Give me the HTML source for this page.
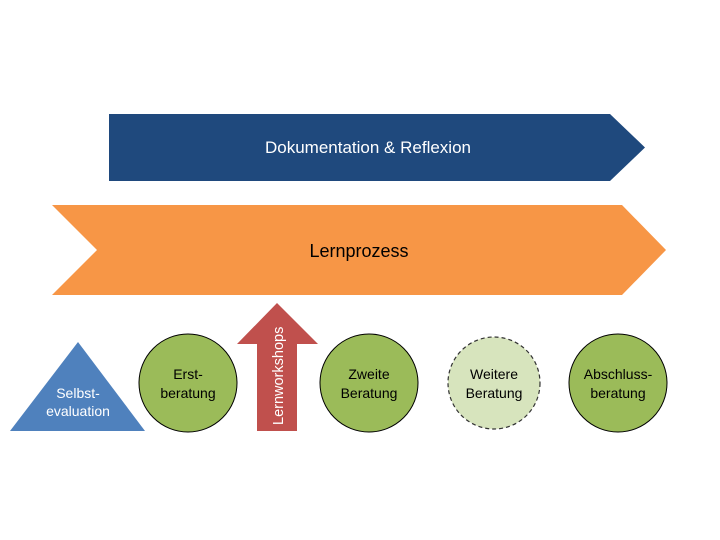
<!DOCTYPE html>
<html><head><style>
html,body{margin:0;padding:0;background:#fff;width:720px;height:540px;overflow:hidden}
text{font-family:"Liberation Sans",sans-serif}
</style></head><body>
<svg width="720" height="540" viewBox="0 0 720 540" xmlns="http://www.w3.org/2000/svg">
<polygon points="109,114 610,114 645,147.5 610,181 109,181" fill="#1f497d"/>
<text x="368" y="153" font-size="17" fill="#fff" text-anchor="middle">Dokumentation &amp; Reflexion</text>
<polygon points="52,205 622,205 666,250 622,295 52,295 97,250" fill="#f79646"/>
<text x="359" y="257" font-size="18" fill="#000" text-anchor="middle">Lernprozess</text>
<polygon points="78,342 145,431 10,431" fill="#4f81bd"/>
<text x="78" y="398" font-size="14" fill="#fff" text-anchor="middle">Selbst-</text>
<text x="78" y="416" font-size="14" fill="#fff" text-anchor="middle">evaluation</text>
<circle cx="188" cy="383" r="49" fill="#9bbb59" stroke="#000" stroke-width="1"/>
<text x="188" y="379" font-size="14" text-anchor="middle">Erst-</text>
<text x="188" y="398" font-size="14" text-anchor="middle">beratung</text>
<polygon points="277,303 318,344 297,344 297,431 257,431 257,344 237,344" fill="#c0504d"/>
<text transform="translate(283,425) rotate(-90)" font-size="14.5" fill="#fff">Lernworkshops</text>
<circle cx="369" cy="383" r="49" fill="#9bbb59" stroke="#000" stroke-width="1"/>
<text x="369" y="379" font-size="14" text-anchor="middle">Zweite</text>
<text x="369" y="398" font-size="14" text-anchor="middle">Beratung</text>
<circle cx="494" cy="383" r="46" fill="#d7e4bd" stroke="#333" stroke-width="1.2" stroke-dasharray="4,3"/>
<text x="494" y="379" font-size="14" text-anchor="middle">Weitere</text>
<text x="494" y="398" font-size="14" text-anchor="middle">Beratung</text>
<circle cx="618" cy="383" r="49" fill="#9bbb59" stroke="#000" stroke-width="1"/>
<text x="618" y="379" font-size="14" text-anchor="middle">Abschluss-</text>
<text x="618" y="398" font-size="14" text-anchor="middle">beratung</text>
</svg>
</body></html>
